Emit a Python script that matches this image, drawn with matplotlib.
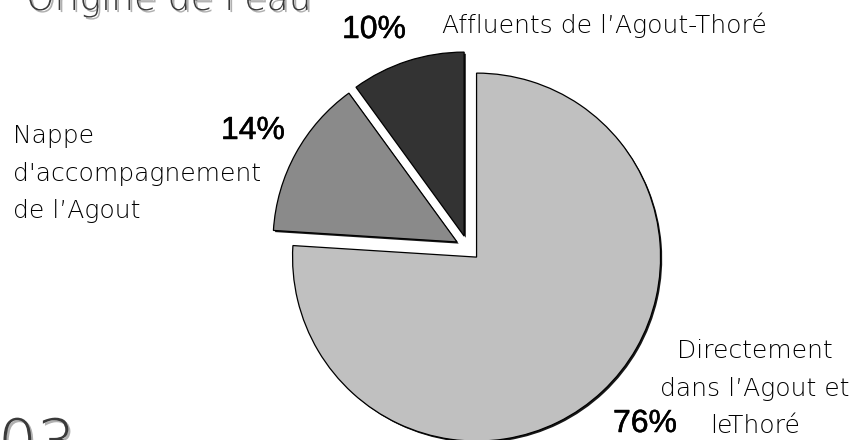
import matplotlib
import matplotlib.pyplot as plt
import matplotlib.patheffects as pe

matplotlib.use('Agg')

# === données ===
LABELS = ["Directement\ndans l’Agout et\nleThoré",
          "Nappe\nd'accompagnement\nde l’Agout",
          "Affluents de l’Agout-Thoré"]
VALUES = [76, 14, 10]
COLORS = ['#c0c0c0', '#8a8a8a', '#333333']
TITLE = "Origine de l'eau"
PAGE = "03"

# === mise en page (pixels, origine en haut à gauche) ===
W, H = 864, 440
CENTER = (468, 248)
RADIUS = 184
EXPLODE_PX = 12.5
PCT_POS = [(645, 424), (253, 131), (374, 30)]
# (x, premiere ligne de base, alignement)
LABEL_POS = [(755, 358, 'center'), (13, 143, 'left'), (442, 33, 'left')]
LINE_STEP = 37.5

fig = plt.figure(figsize=(W / 100, H / 100), dpi=100)
ax = fig.add_axes([0, 0, 1, 1])

wedges, _ = ax.pie(VALUES, colors=COLORS, startangle=90, counterclock=False,
                   center=(CENTER[0], H - CENTER[1]), radius=RADIUS,
                   explode=[EXPLODE_PX] * len(VALUES), frame=True,
                   wedgeprops=dict(edgecolor='black', linewidth=0.9))
for w in wedges:
    w.set_path_effects([pe.SimplePatchShadow(offset=(1.2, -1.2), shadow_rgbFace='black', alpha=0.9),
                        pe.Normal()])

ax.set_xlim(0, W)
ax.set_ylim(0, H)
ax.set_aspect('auto')
ax.axis('off')

pct_font = dict(family=['Liberation Sans', 'DejaVu Sans'], fontsize=23, color='black')
lab_font = dict(family=['DejaVu Sans'], fontsize=18, fontweight='light', color='black')

# pourcentages (un peu épaissis : entre regular et bold)
for v, (px, py) in zip(VALUES, PCT_POS):
    ax.text(px, H - py, f"{v}%", ha='center', va='center', **pct_font,
            path_effects=[pe.withStroke(linewidth=0.35, foreground='black')])

# étiquettes, une ligne à la fois pour garder l'interligne
for lab, (lx, ly, align) in zip(LABELS, LABEL_POS):
    for i, line in enumerate(lab.split("\n")):
        ax.text(lx, H - (ly + i * LINE_STEP), line, ha=align, va='baseline', **lab_font)

# titre et numéro de page, coupés par le bord comme sur l'original
t = ax.text(312, H - 10, TITLE, ha='right', va='baseline', fontsize=26,
            family=['DejaVu Sans'], fontweight='light', color='#3a3a3a')
p = ax.text(-2, H - 417, PAGE, ha='left', va='top', fontsize=44,
            family=['DejaVu Sans'], fontweight='light', color='#3a3a3a')
for txt in (t, p):
    txt.set_path_effects([pe.withSimplePatchShadow(offset=(1.5, -1.5), shadow_rgbFace='#b0b0b0', alpha=1.0)])

fig.savefig('out.png', dpi=100)
